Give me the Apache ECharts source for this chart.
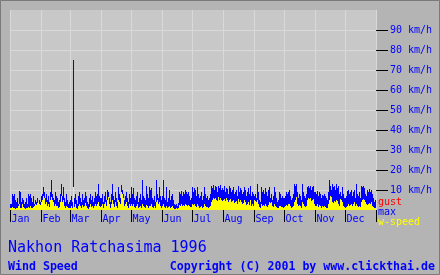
<!DOCTYPE html>
<html>
<head>
<meta charset="utf-8">
<script src="https://cdn.jsdelivr.net/npm/echarts@6/dist/echarts.min.js"></script>
<style>
html,body{margin:0;padding:0;background:#b4b4b4;}
#c{width:440px;height:275px;}
</style>
</head>
<body>
<div id="c"></div>
<script>
// ---- data (km/h), one row per month ----
const monthNames = ['Jan','Feb','Mar','Apr','May','Jun','Jul','Aug','Sep','Oct','Nov','Dec'];
const monthDays = [31,29,31,30,31,30,31,31,30,31,30,31];
const yTickValues = [10,20,30,40,50,60,70,80,90];

const maxByMonth = [
  [3,3,8,7,8,5,4,6,3,9.5,9,4,6,5,3,4,6,3,8,7,8,6,4,7,3,5,4,6,3,5,4],
  [7,8,11.5,9,6,8,5,7,4,9,15,8,6,5,9,7,6,4,5,8,13,7,11.5,6,4,8,5,3,4],
  [5,7,4,75,6,8,5,3,7,9,6,4,8,5,6,9,7,4,3,6,8,5,7,4,6,9,7,8,13,7,6],
  [6,8,4,7,9,5,10,9,6,4,8,13,7,5,9,6,4,11.5,8,6,12.5,10,8,5,7,9,6,4,8,6],
  [11.5,8,11,6,5,7,9,4,6,8,5,15,7,6,5,12,8,6,11.5,10,11,6,5,7,4,15,8,6,11.5,7,5],
  [7,15,6,5,11.5,4,6,10,5,7,8,5,3,2.5,3,2,3.5,9,8,9.5,7,9,8,10,9,8,9,7,5,6],
  [11.5,9,11,10,7,11.5,8,6,7,9,5,7,11.5,8,6,7,5,6,8,12,11,12.5,10,12,11.5,9,12,11,12.5,10,11],
  [10,12,9,11,10.5,8,12,11,9,10,11.5,8,9,10,7,12,9,11,10,8,9,11.5,10,7,9,11,8,12,7,9,8],
  [7,8,6,13,9,5,4,11.5,9,10,8,11,9,7,10,11.5,6,8,5,7,11.5,9,6,4,5,9,8,6,7,6],
  [6,7,9,8,9,10,7,5,6,8,13,12,13,9,6,8,7,5,13,9,7,6,8,11.5,12,11,12,10,11.5,12,9],
  [9,8,9.5,7,9,8,6,7.5,7,8,7,6,5,9,15,12,10,13,11.5,12,10,13,11,12,8,9,7,11.5,8,6],
  [6,7,9.5,10,8,9,10,7,9,10,6,13,8,7,9,6,12,11.5,12,11,8,7,10,9,10.5,9,10,8,6,4,5]
];
const windByMonth = [
  [1,1,1.5,1,1,0.5,1,1,2,3,1,1,3,1.5,1,0.5,1,1,1.5,1,2,1,1,1.5,2,3,2.5,3.5,4,3,2.5],
  [4,5,7,6,3,4,2,3,1.5,5,6.5,5,4,2,3,2,2,1,1.5,4,7,4,5,2,1,2,1.5,1,1],
  [1,2,1,11.5,1.5,3,1,0.5,2,3,2,1,2.5,1.5,2,3.5,2,1,0.5,1.5,3,1.5,2,1,2,3,2,3,4,2,1.5],
  [2,3,1,3,4,2,5,6.5,3,1,3,5,3,1.5,4,2,1,5,4,3,9,8,6,2,3,4,2,1,3,2],
  [3,2,3,1.5,1,2,3,1,1.5,2,1,3,2,1.5,1,2.5,2,1,2,2,3,1.5,1,2,1,4,5,3,4,2,1],
  [2,3,1.5,1,2,1,1.5,2,1,1.5,2,1,0.5,0.5,1,0.5,1,2.5,2,3,2,2.5,2,3,2.5,2,2.5,2,1.5,1.5],
  [3,2.5,3,2,1.5,3,2,1,1.5,2,1,1.5,3,2,1.5,1.5,1,1.5,2,4,5,6,5.5,6,5,4.5,6.5,5,6,5,4.5],
  [5,5.5,4.5,6,5,4,5,5.5,4,4.5,5,3.5,4,4.5,3,5.5,4,5,4,3,3.5,5,4,2.5,3,4,2.5,5,2,3,2],
  [5,4.5,4,5,3,1.5,1,3,2,2.5,2,3,2,1.5,2.5,4,3.5,4,2,1.5,3,2,1.5,1,1,2,2,1.5,1.5,1],
  [1.5,2,2.5,2,3,3,2,1,1.5,2,4,5,6.5,3,2,2.5,2,1,4,3,2,1.5,2,5,6,5.5,6,4.5,5,5.5,3],
  [2,2,3,1.5,2.5,2,1,2,1.5,2,1.5,1,1,3,5,7,6.5,4,3.5,4.5,4,5,4.5,3,2,5.5,5,4,2,1.5],
  [1,1.5,2,3,2,2.5,3,2,3,4,2,3,2,1.5,2,1.5,4,5,5.5,5,4,3,2.5,3,3.5,3,4,2,1.5,1,1]
];
const gustData = [];

// ---- build ----
const days = [];
const monthStartIndex = {};
monthDays.forEach((n, m) => {
  monthStartIndex[days.length] = monthNames[m];
  for (let d = 1; d <= n; d++) days.push(monthNames[m] + ' ' + d);
});
const maxData = [].concat(...maxByMonth);
const windData = [].concat(...windByMonth);
const isMonthStart = (i) => monthStartIndex[i] !== undefined;

const BLUE = '#0000ff';
const MONO = '"DejaVu Sans Mono", monospace';

const chart = echarts.init(document.getElementById('c'), null, {renderer: 'canvas'});
chart.setOption({
  animation: false,
  backgroundColor: '#b4b4b4',
  textStyle: {fontFamily: MONO},
  title: [
    {text: 'Nakhon Ratchasima 1996', left: 8, top: 241, padding: 0,
     textStyle: {color: BLUE, fontSize: 15, fontWeight: 'normal', fontFamily: MONO}},
    {text: 'Wind Speed', left: 8, top: 261, padding: 0,
     textStyle: {color: BLUE, fontSize: 11.6, fontWeight: 'bold', fontFamily: MONO}},
    {text: 'Copyright (C) 2001 by www.clickthai.de', right: 5, top: 261, padding: 0,
     textStyle: {color: BLUE, fontSize: 11.6, fontWeight: 'bold', fontFamily: MONO}}
  ],
  legend: {
    orient: 'vertical', left: 373, top: 197, padding: 0, itemGap: 0,
    itemWidth: 0, itemHeight: 10, icon: 'none', selectedMode: false,
    textStyle: {fontFamily: MONO, fontSize: 10, lineHeight: 10, padding: 0},
    data: [
      {name: 'gust', textStyle: {color: '#ff0000'}},
      {name: 'max', textStyle: {color: '#0000ff'}},
      {name: 'w-speed', textStyle: {color: '#ffff00'}}
    ]
  },
  grid: {left: 10, top: 10, width: 366, height: 200, show: true,
         backgroundColor: '#c8c8c8', borderWidth: 0, containLabel: false},
  xAxis: {
    type: 'category', data: days, boundaryGap: true,
    axisLine: {show: false},
    axisTick: {show: true, interval: (i) => isMonthStart(i), length: 12,
               lineStyle: {color: '#000', width: 1}},
    splitLine: {show: true, interval: (i) => isMonthStart(i),
                lineStyle: {color: '#d9d9d9', width: 1}},
    axisLabel: {interval: (i) => isMonthStart(i), formatter: (v, i) => monthStartIndex[i] || '',
                align: 'left', margin: 4, padding: [0, 0, 0, 1],
                color: BLUE, fontFamily: MONO, fontSize: 10}
  },
  yAxis: {
    type: 'value', position: 'right', min: 0, max: 100, interval: 10,
    axisLine: {show: false},
    axisTick: {show: true, length: 12, customValues: yTickValues,
               lineStyle: {color: '#000', width: 1}},
    splitLine: {show: true, lineStyle: {color: '#d9d9d9', width: 1}},
    axisLabel: {customValues: yTickValues, formatter: '{value} km/h', margin: 14,
                color: BLUE, fontFamily: MONO, fontSize: 10}
  },
  series: [
    {name: 'gust', type: 'bar', data: gustData, barWidth: 1, barGap: '-100%',
     itemStyle: {color: '#ff0000'}},
    {name: 'max', type: 'bar', data: maxData, barWidth: 1, barGap: '-100%',
     itemStyle: {color: '#0000ff'}},
    {name: 'w-speed', type: 'bar', data: windData, barWidth: 1, barGap: '-100%',
     itemStyle: {color: '#ffff00'}}
  ],
  graphic: [
    {type: 'rect', silent: true, z: 100,
     shape: {x: 0.5, y: 0.5, width: 439, height: 274},
     style: {fill: null, stroke: '#7a7a7a', lineWidth: 1}}
  ]
});
</script>
</body>
</html>
